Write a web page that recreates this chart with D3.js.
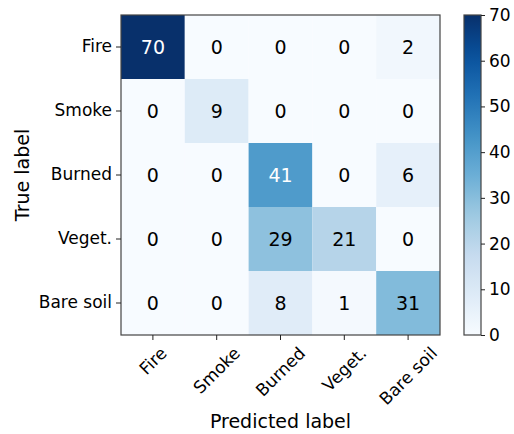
<!DOCTYPE html>
<html>
<head>
<meta charset="utf-8">
<script src="https://cdn.jsdelivr.net/npm/d3@7"></script>
<style>
  html, body { margin: 0; padding: 0; background: #fff; }
  svg { display: block; font-family: "DejaVu Sans", sans-serif; }
</style>
</head>
<body>
<svg id="chart" width="514" height="434"></svg>
<script>
// Class names, shared by both axes
const classes = ["Fire", "Smoke", "Burned", "Veget.", "Bare soil"];

// Confusion matrix rows (true label) x columns (predicted label)
const rowFire   = [70, 0, 0, 0, 2];
const rowSmoke  = [0, 9, 0, 0, 0];
const rowBurned = [0, 0, 41, 0, 6];
const rowVeget  = [0, 0, 29, 21, 0];
const rowBare   = [0, 0, 8, 1, 31];
const matrixRows = [rowFire, rowSmoke, rowBurned, rowVeget, rowBare];

// Colour bar range and ticks
const colorMin = 0;
const colorMax = 70;
const colorTicks = [0, 10, 20, 30, 40, 50, 60, 70];

const svg = d3.select("#chart");

const plot = { left: 121, top: 15, width: 319, height: 320 };
const bar = { left: 464, top: 15, width: 17, height: 320 };
const tickFont = 17;

// Linear Blues ramp over the 9 ColorBrewer stops
const blues = d3.piecewise(d3.interpolateRgb, d3.schemeBlues[9]);
const color = d3.scaleSequential(blues).domain([colorMin, colorMax]);

const x = d3.scaleBand().domain(classes).range([plot.left, plot.left + plot.width]);
const y = d3.scaleBand().domain(classes).range([plot.top, plot.top + plot.height]);

const cells = [];
matrixRows.forEach((row, i) => row.forEach((v, j) => cells.push({ t: classes[i], p: classes[j], v })));

// Heatmap cells
svg.append("g").selectAll("rect").data(cells).join("rect")
  .attr("x", d => x(d.p))
  .attr("y", d => y(d.t))
  .attr("width", x.bandwidth())
  .attr("height", y.bandwidth())
  .attr("fill", d => color(d.v));

// Cell counts
svg.append("g").selectAll("text").data(cells).join("text")
  .attr("x", d => x(d.p) + x.bandwidth() / 2)
  .attr("y", d => y(d.t) + y.bandwidth() / 2)
  .attr("dy", "0.36em")
  .attr("text-anchor", "middle")
  .attr("font-size", 19)
  .attr("fill", d => d.v > colorMax / 2 ? "#ffffff" : "#000000")
  .text(d => d.v);

// Frame
svg.append("rect")
  .attr("x", plot.left).attr("y", plot.top)
  .attr("width", plot.width).attr("height", plot.height)
  .attr("fill", "none").attr("stroke", "#444").attr("stroke-width", 1.2);

// Left axis
const yAxis = svg.append("g")
  .attr("transform", `translate(${plot.left},0)`)
  .call(d3.axisLeft(y).tickSize(5).tickPadding(4));
yAxis.select(".domain").remove();
yAxis.selectAll("line").attr("stroke", "#222");
yAxis.selectAll("text").attr("font-size", tickFont).attr("font-family", "DejaVu Sans").attr("fill", "#000");

// Bottom axis: each slanted label's rotated box is centred under its tick
const xAxis = svg.append("g")
  .attr("transform", `translate(0,${plot.top + plot.height})`)
  .call(d3.axisBottom(x).tickSize(5));
xAxis.select(".domain").remove();
xAxis.selectAll("line").attr("stroke", "#222");
const labelTop = 8;
const lineH = tickFont * 1.17;
xAxis.selectAll("text")
  .attr("font-size", tickFont).attr("font-family", "DejaVu Sans").attr("fill", "#000")
  .attr("text-anchor", "middle")
  .attr("y", 0).attr("dy", "0.35em")
  .each(function () {
    const w = this.getComputedTextLength();
    const cy = labelTop + (w + lineH) * Math.SQRT1_2 / 2;
    d3.select(this).attr("transform", `translate(0,${cy}) rotate(-45)`);
  });

// Axis titles
svg.append("text")
  .attr("x", plot.left + plot.width / 2)
  .attr("y", 428)
  .attr("text-anchor", "middle")
  .attr("font-size", 19)
  .text("Predicted label");

svg.append("text")
  .attr("transform", `translate(29,${plot.top + plot.height / 2}) rotate(-90)`)
  .attr("text-anchor", "middle")
  .attr("font-size", 19)
  .text("True label");

// Colour bar
const defs = svg.append("defs");
const grad = defs.append("linearGradient")
  .attr("id", "cbar").attr("x1", 0).attr("y1", 1).attr("x2", 0).attr("y2", 0);
d3.range(0, 1.0001, 0.05).forEach(t => {
  grad.append("stop").attr("offset", t).attr("stop-color", blues(t));
});
svg.append("rect")
  .attr("x", bar.left).attr("y", bar.top)
  .attr("width", bar.width).attr("height", bar.height)
  .attr("fill", "url(#cbar)")
  .attr("stroke", "#444").attr("stroke-width", 1.2);

const cScale = d3.scaleLinear().domain([colorMin, colorMax]).range([bar.top + bar.height, bar.top]);
const cAxis = svg.append("g")
  .attr("transform", `translate(${bar.left + bar.width},0)`)
  .call(d3.axisRight(cScale).tickValues(colorTicks).tickSize(4).tickPadding(4));
cAxis.select(".domain").remove();
cAxis.selectAll("line").attr("stroke", "#222");
cAxis.selectAll("text").attr("font-size", tickFont).attr("font-family", "DejaVu Sans").attr("fill", "#000");
</script>
</body>
</html>
